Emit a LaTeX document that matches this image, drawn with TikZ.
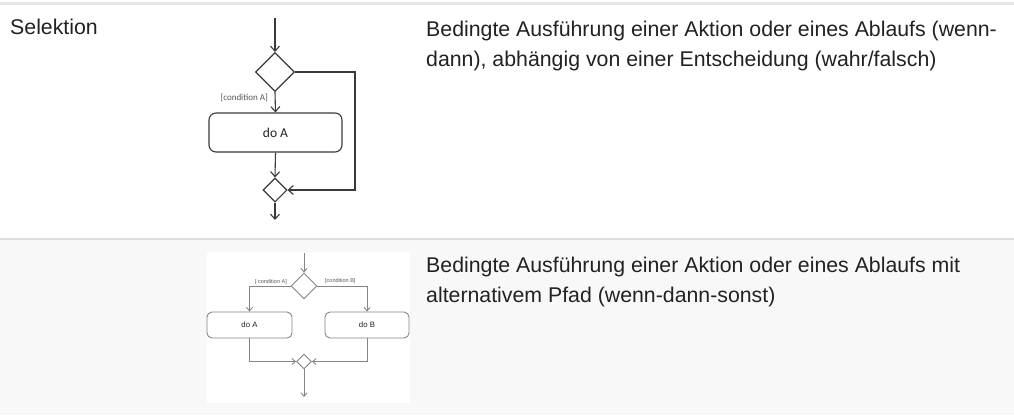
\documentclass[tikz,border=0pt]{standalone}
\usepackage{fontspec}
\setmainfont{Liberation Sans}
\newfontfamily\carl{Carlito}
\usetikzlibrary{shapes.geometric,arrows.meta}
\definecolor{txt}{HTML}{222222}
\definecolor{rowgray}{HTML}{F8F8F8}
\definecolor{sepgray}{HTML}{DDDDDD}
\definecolor{topgray}{HTML}{E6E6E6}
\definecolor{lineA}{HTML}{3A3A3A}
\definecolor{lineB}{HTML}{858585}
\definecolor{labB}{HTML}{555555}
\tikzset{
  body/.style={font=\fontsize{21.3}{25}\selectfont, text=txt, anchor=base west, inner sep=0},
  flowA/.style={draw=lineA, line width=1.1pt, -{Straight Barb[length=5pt,width=9pt]}},
  diaA/.style={draw=lineA, line width=1.1pt, diamond, aspect=1, inner sep=0, fill=white},
  boxA/.style={draw=lineA, line width=1.1pt, rounded corners=7pt, minimum width=133pt, minimum height=39pt, inner sep=0, font=\carl\fontsize{13.5}{15}\selectfont, text=txt},
  labA/.style={font=\carl\fontsize{9}{10}\selectfont, text=labB, inner sep=0},
  flowB/.style={draw=lineB, line width=0.9pt, -{Straight Barb[length=3.5pt,width=6pt]}},
  diaB/.style={draw=lineB, line width=0.9pt, diamond, aspect=1, inner sep=0, fill=white},
  boxB/.style={draw=lineB, line width=0.9pt, rounded corners=5pt, minimum height=26pt, inner sep=0, font=\fontsize{7.8}{9}\selectfont, text=txt},
  labBs/.style={font=\fontsize{5.5}{6}\selectfont, text=labB, inner sep=0},
}
\begin{document}
\begin{tikzpicture}[x=1pt,y=-1pt]
\useasboundingbox (0,0) rectangle (1014,415);
\fill[white] (0,0) rectangle (1014,415);
\fill[topgray] (0,1.5) rectangle (1014,4.5);
\fill[rowgray] (0,240) rectangle (1014,415);
\fill[sepgray] (0,237.5) rectangle (1014,240);
\fill[white] (207,252) rectangle (410,403);

% texts
\node[body] (t0) at (10,34) {Selektion};
\node[body] (t1) at (426,36) {Bedingte Ausführung einer Aktion oder eines Ablaufs (wenn-};
\node[body] (t2) at (426,66) {dann), abhängig von einer Entscheidung (wahr/falsch)};
\node[body] (t3) at (426,272) {Bedingte Ausführung einer Aktion oder eines Ablaufs mit};
\node[body] (t4) at (426,302) {alternativem Pfad (wenn-dann-sonst)};

% diagram 1
\coordinate (s1) at (275,18);
\node[diaA, minimum width=39pt, minimum height=39pt] (d1) at (275,72) {};
\node[boxA] (a1) at (275.5,132.5) {do A};
\node[diaA, minimum width=24pt, minimum height=24pt] (m1) at (275,190) {};
\coordinate (c1) at (355,190);
\coordinate (e1) at (275,220);
\draw[flowA] (s1) -- (d1.north);
\draw[flowA] (d1.south) -- (a1.north);
\draw[flowA] (a1.south) -- (m1.north);
\draw[flowA] (d1.east) -| (c1) -- (m1.east);
\draw[flowA] (m1.south) -- (e1);
\node[labA, anchor=east] (l1) at (268,98) {[condition A]};

% diagram 2
\coordinate (s2) at (304,253);
\node[diaB, minimum width=26pt, minimum height=26pt] (d2) at (304,286) {};
\node[boxB, minimum width=85pt] (a2) at (249.5,325) {do A};
\node[boxB, minimum width=84pt] (b2) at (367,325) {do B};
\node[diaB, minimum width=15pt, minimum height=15pt] (m2) at (304,361.5) {};
\coordinate (e2) at (304,397);
\draw[flowB] (s2) -- (d2.north);
\draw[flowB] (d2.west) -| (a2.north);
\draw[flowB] (d2.east) -| (b2.north);
\draw[flowB] (a2.south) |- (m2.west);
\draw[flowB] (b2.south) |- (m2.east);
\draw[flowB] (m2.south) -- (e2);
\node[labBs, anchor=east] (l2) at (287,282) {[ condition A]};
\node[labBs, anchor=west] (l3) at (325,281.5) {[condition B]};
\end{tikzpicture}
\end{document}
